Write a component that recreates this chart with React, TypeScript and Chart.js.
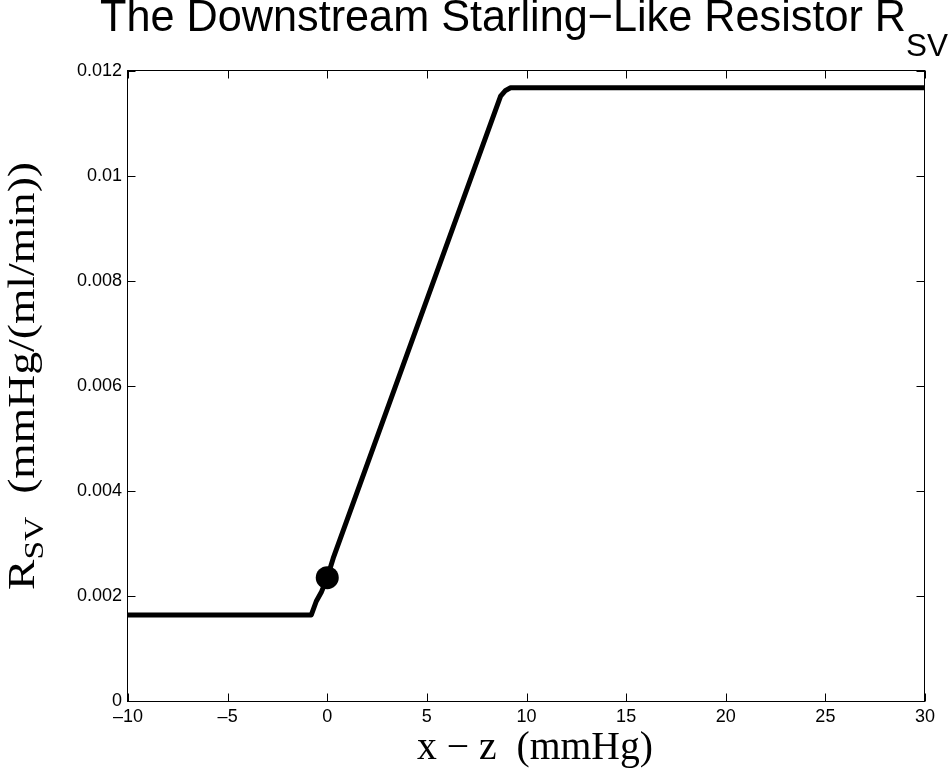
import React, { useEffect, useRef } from 'react';
import { Chart, registerables } from 'chart.js';

Chart.register(...registerables);

// ---- data ----
const xValues = [-10, -0.8, -0.55, -0.3, 0, 0.3, 8.7, 8.95, 9.2, 30];
const rsvValues = [0.00164, 0.00164, 0.0019, 0.00207, 0.00235, 0.00272, 0.01152, 0.01163, 0.01168, 0.01168];
const operatingX = [0];
const operatingY = [0.00235];

const xTickValues = [-10, -5, 0, 5, 10, 15, 20, 25, 30];
const xTickLabels = ['\u201310', '\u20135', '0', '5', '10', '15', '20', '25', '30'];
const yTickValues = [0, 0.002, 0.004, 0.006, 0.008, 0.01, 0.012];
const yTickLabels = ['0', '0.002', '0.004', '0.006', '0.008', '0.01', '0.012'];

const titleMain = 'The Downstream Starling\u2212Like Resistor R';
const titleSub = 'SV';
const xLabelText = 'x \u2212 z  (mmHg)';
const yLabelMain = 'R';
const yLabelSub = 'SV';
const yLabelRest = '  (mmHg/(ml/min))';

const SANS = '"Liberation Sans", Arial, Helvetica, sans-serif';
const SERIF = '"Liberation Serif", "Times New Roman", Times, serif';

const framePlugin = {
  id: 'framePlugin',
  afterDraw(chart: any) {
    const { ctx, chartArea: a, scales } = chart;
    ctx.save();
    ctx.strokeStyle = '#000';
    ctx.lineWidth = 1;
    const L = Math.round(a.left) - 0.5;
    const R = Math.round(a.right) - 0.5;
    const T = Math.round(a.top) - 0.5;
    const B = Math.round(a.bottom) + 0.5;
    ctx.strokeRect(L, T, R - L, B - T);
    const tl = 8;
    ctx.beginPath();
    for (const v of xTickValues) {
      const px = Math.round(scales.x.getPixelForValue(v)) + 0.5;
      ctx.moveTo(px, B); ctx.lineTo(px, B - tl);
      ctx.moveTo(px, T); ctx.lineTo(px, T + tl);
    }
    for (const v of yTickValues) {
      const py = Math.round(scales.y.getPixelForValue(v)) + 0.5;
      ctx.moveTo(L, py); ctx.lineTo(L + tl, py);
      ctx.moveTo(R, py); ctx.lineTo(R - tl, py);
    }
    ctx.stroke();

    ctx.fillStyle = '#000';
    // Title
    {
      const mainFont = `44px ${SANS}`;
      const subFont = `32px ${SANS}`;
      ctx.font = mainFont;
      const mw = ctx.measureText(titleMain).width;
      ctx.font = subFont;
      const sw = ctx.measureText(titleSub).width;
      const left = 100, right = 948;
      const sx = (right - left) / (mw + sw);
      ctx.save();
      ctx.translate(left, 31);
      ctx.scale(sx, 1);
      ctx.textAlign = 'left';
      ctx.textBaseline = 'alphabetic';
      ctx.font = mainFont;
      ctx.fillText(titleMain, 0, 0);
      ctx.font = subFont;
      ctx.fillText(titleSub, mw, 25);
      ctx.restore();
    }
    // X label
    {
      ctx.save();
      ctx.font = `39px ${SERIF}`;
      const w = ctx.measureText(xLabelText).width;
      const left = 417, right = 653;
      const sx = (right - left) / w;
      ctx.translate(left, 759);
      ctx.scale(sx, 1);
      ctx.textAlign = 'left';
      ctx.textBaseline = 'alphabetic';
      ctx.fillText(xLabelText, 0, 0);
      ctx.restore();
    }
    // Y label
    {
      ctx.save();
      const mainFont = `38px ${SERIF}`;
      const subFont = `28px ${SERIF}`;
      ctx.font = mainFont;
      const w1 = ctx.measureText(yLabelMain).width;
      const w3 = ctx.measureText(yLabelRest).width;
      ctx.font = subFont;
      const w2 = ctx.measureText(yLabelSub).width;
      const bottom = 590, top = 162;
      const sx = (bottom - top) / (w1 + w2 + w3);
      ctx.translate(34, bottom);
      ctx.rotate(-Math.PI / 2);
      ctx.scale(sx, 1);
      ctx.textAlign = 'left';
      ctx.textBaseline = 'alphabetic';
      ctx.font = mainFont;
      ctx.fillText(yLabelMain, 0, 0);
      ctx.font = subFont;
      ctx.fillText(yLabelSub, w1, 9);
      ctx.font = mainFont;
      ctx.fillText(yLabelRest, w1 + w2, 0);
      ctx.restore();
    }
    ctx.restore();
  },
};

export default function App() {
  const canvasRef = useRef<HTMLCanvasElement | null>(null);

  useEffect(() => {
    const canvas = canvasRef.current;
    if (!canvas) return;
    const tickFont = { family: SANS, size: 18 };
    const chart = new Chart(canvas, {
      type: 'line',
      data: {
        datasets: [
          {
            label: 'R_SV',
            data: xValues.map((x, i) => ({ x, y: rsvValues[i] })),
            borderColor: '#000',
            backgroundColor: '#000',
            borderWidth: 5,
            pointRadius: 0,
            tension: 0,
            borderJoinStyle: 'round',
            borderCapStyle: 'butt',
            fill: false,
          },
          {
            label: 'operating point',
            data: operatingX.map((x, i) => ({ x, y: operatingY[i] })),
            showLine: false,
            pointRadius: 11.5,
            pointBackgroundColor: '#000',
            pointBorderColor: '#000',
            pointBorderWidth: 0,
          },
        ],
      },
      options: {
        animation: false,
        responsive: false,
        events: [],
        layout: { padding: { left: 0, right: 26, top: 71, bottom: 0 } },
        plugins: {
          legend: { display: false },
          title: { display: false },
          tooltip: { enabled: false },
        },
        scales: {
          x: {
            type: 'linear',
            min: -10,
            max: 30,
            grid: { display: false, drawTicks: false },
            border: { display: false },
            afterBuildTicks: (scale: any) => {
              scale.ticks = xTickValues.map((v) => ({ value: v }));
            },
            afterFit: (scale: any) => {
              scale.height = 70;
            },
            ticks: {
              autoSkip: false,
              maxRotation: 0,
              minRotation: 0,
              padding: 5,
              color: '#000',
              font: tickFont,
              callback: (_v: any, i: number) => xTickLabels[i],
            },
          },
          y: {
            type: 'linear',
            min: 0,
            max: 0.012,
            grid: { display: false, drawTicks: false },
            border: { display: false },
            afterBuildTicks: (scale: any) => {
              scale.ticks = yTickValues.map((v) => ({ value: v }));
            },
            afterFit: (scale: any) => {
              scale.width = 128;
            },
            ticks: {
              autoSkip: false,
              padding: 6,
              color: '#000',
              font: tickFont,
              callback: (_v: any, i: number) => yTickLabels[i],
            },
          },
        },
      },
      plugins: [framePlugin],
    });
    return () => chart.destroy();
  }, []);

  return (
    <div style={{ position: 'fixed', left: 0, top: 0, width: 951, height: 771, background: '#fff' }}>
      <canvas ref={canvasRef} width={951} height={771} style={{ width: 951, height: 771, display: 'block' }} />
    </div>
  );
}
